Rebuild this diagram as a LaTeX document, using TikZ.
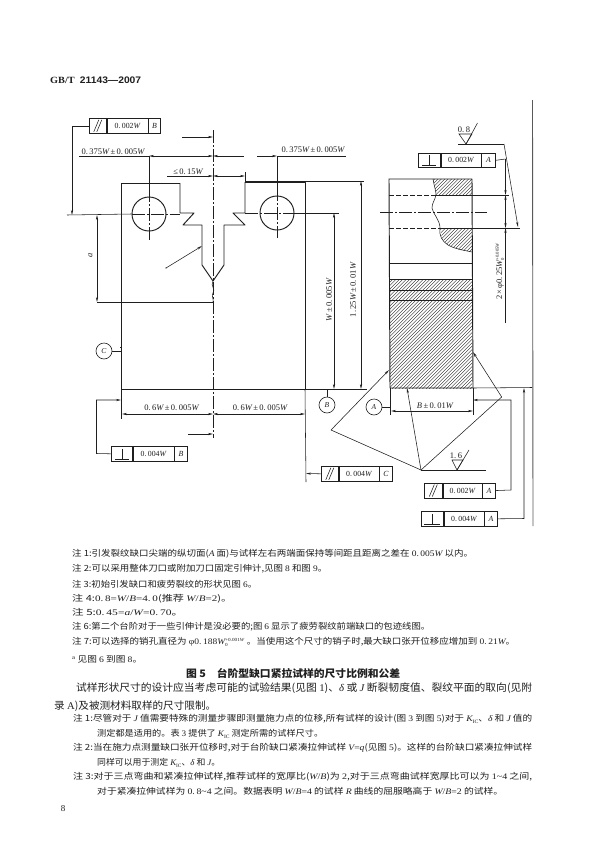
\documentclass[tikz,border=0pt]{standalone}
\usepackage{fontspec}
\usepackage{graphicx}
\setmainfont{Liberation Serif}
\newfontfamily\cjk{Noto Sans CJK SC}
\newfontfamily\hdsans{Liberation Sans}
\usetikzlibrary{arrows.meta}
\colorlet{ink}{black!88}
\newcommand{\C}[1]{{\cjk #1}}
\newcommand{\Wi}{{\itshape W}}
\newcommand{\It}[1]{{\itshape #1}}
\newcommand{\KIC}{{\itshape K}\raisebox{-1.5pt}{\scalebox{.6}{IC}}}
\newcommand{\tol}[2]{\rlap{\raisebox{3.2pt}{\scalebox{.55}{#1}}}\raisebox{-2.2pt}{\scalebox{.55}{#2}}\hspace{17pt}}
\newcommand{\txtline}[5]{\node[anchor=west,inner sep=0pt,text=ink] (#1) at (#2,#3) {\resizebox{#4pt}{\height}{\fontsize{8.5}{10}\selectfont #5}};}
\newcommand{\txtbig}[5]{\node[anchor=west,inner sep=0pt,text=ink] (#1) at (#2,#3) {\resizebox{#4pt}{\height}{\fontsize{10.3}{12}\selectfont #5}};}
% one feature control frame: name, x, y(top), widths a b c, height, text, letter
\newcommand{\fcf}[9]{%
  \node[fcell,anchor=north west,minimum width=#4pt,minimum height=#7pt] (#1a) at (#2,#3) {};
  \node[fcell,anchor=north west,minimum width=#5pt,minimum height=#7pt] (#1b) at (#1a.north east) {#8};
  \node[fcell,anchor=north west,minimum width=#6pt,minimum height=#7pt] (#1c) at (#1b.north east) {\It{#9}};
}
\tikzset{
  x=1pt,y=-1pt,
  outl/.style={draw=ink,line width=0.95pt,line join=round},
  thin line/.style={draw=ink,line width=0.55pt},
  fcell/.style={draw=ink,line width=0.6pt,inner sep=0pt,font=\fontsize{7.8}{8}\selectfont,text=ink},
  dimtext/.style={inner sep=0pt,font=\fontsize{8.5}{9}\selectfont,text=ink},
  centre line/.style={draw=ink,line width=0.6pt,dash pattern=on 13pt off 2pt on 2pt off 2pt},
  arr/.style={-{Stealth[length=5pt,width=2.2pt]}},
  arrb/.style={{Stealth[length=5pt,width=2.2pt]}-{Stealth[length=5pt,width=2.2pt]}},
  datum/.style={circle,draw=ink,line width=0.6pt,minimum size=16pt,inner sep=0pt,font=\fontsize{7.5}{8}\selectfont\itshape,text=ink},
  hole/.style={circle,draw=ink,line width=0.95pt,minimum size=34pt,inner sep=0pt},
  hatchline/.style={draw=ink,line width=0.35pt},
}
\begin{document}
\begin{tikzpicture}
\useasboundingbox (0,0) rectangle (600,857);
\fill[white] (0,0) rectangle (600,857);

% header
\node[anchor=west,inner sep=0pt,text=ink] (hdr) at (50,80) {\resizebox{91pt}{\height}{\fontsize{9.5}{11}\selectfont\bfseries GB/T\ \ {\hdsans 21143—2007}}};

% ---------- named points of the front view
\coordinate (tl) at (121,183);
\coordinate (bl) at (121,389);
\coordinate (br) at (305,389);
\coordinate (tr) at (305,182);
\coordinate (nl) at (180,183);
\coordinate (nr) at (245,182);
\coordinate (tip) at (213,281);
\coordinate (ctop) at (213,130);
\coordinate (cbot) at (213,438);
\coordinate (crack) at (213,302);

% outline
\draw[outl] (nl) -- (tl) -- (bl) -- (br) -- (tr) -- (nr);
\draw[outl] (nl) -- (180,213) -- (194,213) -- (183,225) -- (202,225) -- (202,265) -- (tip);
\draw[outl] (nr) -- (245,213) -- (233,213) -- (245,225) -- (224,225) -- (224,265) -- (tip);
\draw[thin line] (tip) .. controls (210,286) and (216,289) .. (213,293) .. controls (211,296) and (214,299) .. (crack);

% holes
\node[hole] (h1) at (149,214) {};
\node[hole] (h2) at (277,213) {};
\draw[centre line] (ctop) -- (cbot);
\draw[thin line] (149,156) -- (149,189);
\draw[centre line] (149,189) -- (149,240);
\draw[thin line] (277,156) -- (277,188);
\draw[centre line] (277,188) -- (277,238);
% horizontal hole line
\coordinate (la) at (67,215);
\draw[thin line] (la) -- (h1.west);
\draw[centre line] (h1.west) -- (180,214);
\draw[centre line] (245,213) -- (h2.east);
\draw[thin line] (h2.east) -- (339,213);

% dimension a
\coordinate (a1) at (97,215);
\coordinate (a2) at (97,302);
\draw[thin line,arrb] (a1) -- (a2);
\draw[thin line] (a2) -- (crack);
\node[dimtext,rotate=90] (atext) at (90.5,255) {\It{a}};

% top dims
\coordinate (d1a) at (79,156);
\coordinate (d1b) at (149,156);
\coordinate (d1c) at (213,156);
\coordinate (d1d) at (244,156);
\draw[thin line] (d1a) -- (d1b);
\draw[thin line,arrb] (d1b) -- (d1c);
\draw[thin line,{Stealth[length=5pt,width=2.2pt]}-] (d1c) -- (d1d);
\node[dimtext] (t1) at (113,152) {0.\,375\Wi$\,$±$\,$0.\,005\Wi};
\coordinate (d2a) at (257,156);
\coordinate (d2b) at (277,156);
\coordinate (d2c) at (346,156);
\draw[thin line,arr] (d2a) -- (d2b);
\draw[thin line] (d2b) -- (d2c);
\node[dimtext] (t2) at (313,150) {0.\,375\Wi$\,$±$\,$0.\,005\Wi};
\coordinate (d3a) at (167,176);
\coordinate (d3b) at (213,176);
\coordinate (d3c) at (245,176);
\draw[thin line,arr] (d3a) -- (d3b);
\draw[thin line,arrb] (d3b) -- (d3c);
\node[dimtext] (t3) at (188,172) {≤\,0.\,15\Wi};
\coordinate (d4a) at (182,137);
\coordinate (d4b) at (213,137);
\draw[thin line,arr] (d4a) -- (d4b);

% leader note arrow
\coordinate (n1a) at (166,268);
\coordinate (n1b) at (202,246);
\draw[thin line,arr] (n1a) -- (n1b);
\fill[ink] (n1a) circle (0.7pt);

% top-left frame
\fcf{fa}{89}{118}{17}{41}{12}{15}{0.\,002\Wi}{B}
\draw[thin line] ([shift={(-4,6)}]faa.center) -- ([shift={(1,-6)}]faa.center);
\draw[thin line] ([shift={(-1,6)}]faa.center) -- ([shift={(4,-6)}]faa.center);
\coordinate (ld) at (72,215);
\draw[thin line,arr] (faa.west) -| (ld);

% W and 1.25W dims
\coordinate (w1) at (334,213);
\coordinate (w2) at (334,389);
\coordinate (u1) at (361,181);
\coordinate (u2) at (361,389);
\draw[thin line,arrb] (w1) -- (w2);
\draw[thin line,arrb] (u1) -- (u2);
\draw[thin line] (nr) -- (245,172);
\draw[thin line] (245,181) -- (364,181);
\draw[thin line] (br) -- (367,389);
\node[dimtext,rotate=90] (wt) at (329,300) {\Wi$\,$±$\,$0.\,005\Wi};
\node[dimtext,rotate=90] (ut) at (353,290) {1.\,25\Wi$\,$±$\,$0.\,01\Wi};

% datums
\node[datum] (dc) at (104,351) {C};
\draw[thin line] (dc.east) -- (121,351);
\draw[outl] (120,347) -- (122,347);
\node[datum] (db) at (327,405) {B};
\draw[thin line] (db.north) -- (327,389);
\draw[outl] (323,389) -- (331,389);
\node[datum] (da) at (374,407) {A};
\draw[thin line] (da.east) -- (390,407);
\draw[thin line] (390,403) -- (390,411);

% bottom dims
\coordinate (b0) at (122,414);
\coordinate (b1) at (213,414);
\coordinate (b2) at (305,414);
\draw[thin line] (bl) -- (121,419);
\draw[thin line,arrb] (b0) -- (b1);
\draw[thin line,arrb] (b1) -- (b2);
\node[dimtext] (t4) at (171.5,408) {0.\,6\Wi$\,$±$\,$0.\,005\Wi};
\node[dimtext] (t5) at (260,408) {0.\,6\Wi$\,$±$\,$0.\,005\Wi};
\coordinate (b3) at (188,434);
\draw[thin line,arr] (b3) -- (213,434);
\coordinate (rb) at (306,482);
\draw[thin line] (br) -- (rb);

% lower-left frame
\fcf{fb}{111}{446}{21}{41}{13}{15}{0.\,004\Wi}{B}
\draw[thin line] ([shift={(0,-5)}]fba.center) -- ([shift={(0,5)}]fba.center);
\draw[outl] ([shift={(-7,5.5)}]fba.center) -- ([shift={(7,5.5)}]fba.center);
\coordinate (ll) at (121,400);
\draw[thin line,arr] (fba.west) -- (96.5,453.5) -- (96.5,400) -- (ll);

% mid frame C
\fcf{fc}{321}{466}{17}{40}{13}{15}{0.\,004\Wi}{C}
\draw[thin line] ([shift={(-4,6)}]fca.center) -- ([shift={(1,-6)}]fca.center);
\draw[thin line] ([shift={(-1,6)}]fca.center) -- ([shift={(4,-6)}]fca.center);
\draw[thin line,arr] (fca.west) -- (306,473.5);

% ---------- side view
\begin{scope}
\clip (433,179) -- (472,179) -- (472,195) -- (436,195) -- (435,187) -- cycle;
\foreach \d in {400,403.4,...,560} \draw[hatchline] (\d,200) -- (\d+30,170);
\end{scope}
\begin{scope}
\clip (440,228) -- (472,228) -- (472,252) -- (460,250) -- (448,245) -- (442,238) -- cycle;
\foreach \d in {400,403.4,...,540} \draw[hatchline] (\d,260) -- (\d+40,220);
\end{scope}
\begin{scope}
\clip (390,279) rectangle (472,388);
\foreach \d in {260,263.4,...,480} \draw[hatchline] (\d,395) -- (\d+125,270);
\end{scope}
\coordinate (stl) at (389,179);
\coordinate (str) at (472,179);
\coordinate (sbl) at (390,388);
\coordinate (sbr) at (473,388);
\draw[outl] (sbl) -- (stl) -- (str) -- (sbr) -- cycle;
\draw[outl] (390,263) -- (472,263);
\draw[outl] (390,279) -- (472,279);
\draw[thin line,line width=0.8pt] (390,290) -- (472,290);
\draw[thin line,line width=0.8pt] (390,300) -- (472,300);
\draw[thin line] (433,179) .. controls (434,186) and (436,190) .. (436,195) .. controls (435,200) and (432,203) .. (432,208) .. controls (433,214) and (440,220) .. (440,228) .. controls (439,236) and (442,241) .. (448,245) .. controls (455,249) and (463,250) .. (472,252);
\draw[draw=ink,line width=0.7pt,dash pattern=on 5pt off 2pt] (389,195) -- (436,195);
\draw[draw=ink,line width=0.7pt,dash pattern=on 5pt off 2pt] (389,228) -- (440,228);
\coordinate (e1) at (509,195);
\coordinate (e2) at (520,228);
\draw[thin line] (436,195) -- (e1);
\draw[thin line] (440,228) -- (e2);
\draw[centre line] (380,212) -- (487,212);

% right dims
\coordinate (v0) at (505.5,159);
\coordinate (v1) at (505.5,195);
\coordinate (v2) at (505.5,228);
\coordinate (v3) at (505.5,323);
\draw[thin line,arr] (v0) -- (v1);
\draw[thin line,arr] (505.5,208) -- (v1);
\draw[thin line,arr] (505.5,208) -- (v2);
\draw[thin line,arr] (v3) -- (v2);
\node[dimtext,rotate=90] (dt) at (500,270) {2×\,φ0.\,25\Wi\raisebox{0pt}{\tol{+0.005\Wi}{0}}};

% top-right frame
\fcf{fd}{418}{153}{22}{40}{14}{14}{0.\,002\Wi}{A}
\draw[thin line] ([shift={(0,-5)}]fda.center) -- ([shift={(0,5)}]fda.center);
\draw[thin line] ([shift={(-7,5)}]fda.center) -- ([shift={(7,5)}]fda.center);
\draw[thin line] (fdc.east) -- (v0);

% roughness 0.8
\coordinate (r1) at (459,134);
\coordinate (r2) at (472,134);
\coordinate (r3) at (466,144);
\coordinate (r4) at (477.5,123);
\coordinate (r5) at (504,144);
\coordinate (r6) at (518,227);
\draw[thin line] (r1) -- (r2) -- (r3) -- cycle;
\draw[thin line] (r3) -- (r4);
\draw[thin line] (458,144) -- (r5);
\draw[thin line,arr] (r5) -- (r6);
\node[dimtext] (r08) at (464,129.5) {0.\,8};

% side bottom dim
\draw[thin line] (sbl) -- (390,415);
\draw[thin line] (sbr) -- (473,415);
\coordinate (s1) at (391,411);
\coordinate (s2) at (473,411);
\draw[thin line,arrb] (s1) -- (s2);
\node[dimtext] (t6) at (435,406) {\It{B}$\,$±$\,$0.\,01\Wi};

% roughness 1.6
\coordinate (q0) at (421,470);
\coordinate (q1) at (407,388);
\coordinate (q2) at (501.7,397);
\coordinate (q3) at (473,352);
\coordinate (q4) at (331,430);
\coordinate (q5) at (389,370);
\coordinate (q6) at (486,470);
\draw[thin line] (q0) -- (q6);
\draw[thin line,arr] (q0) -- (q1);
\draw[thin line,arr] (q2) -- (q3);
\draw[thin line] (q0) -- (q2);
\draw[thin line] (q0) -- (q4);
\draw[thin line,arr] (q4) -- (q5);
\coordinate (p1) at (452,460);
\coordinate (p2) at (463,460);
\coordinate (p3) at (457,470);
\coordinate (p4) at (469,450);
\draw[thin line] (p1) -- (p2) -- (p3) -- cycle;
\draw[thin line] (p3) -- (p4);
\node[dimtext] (r16) at (456,455.5) {1.\,6};

% lower-right frames
\fcf{fe}{424}{483}{18}{39}{13}{14.5}{0.\,002\Wi}{A}
\draw[thin line] ([shift={(-4,6)}]fea.center) -- ([shift={(1,-6)}]fea.center);
\draw[thin line] ([shift={(-1,6)}]fea.center) -- ([shift={(4,-6)}]fea.center);
\coordinate (g1) at (511,490);
\coordinate (g2) at (511,400);
\coordinate (g3) at (473,400);
\draw[thin line,arr] (fec.east) -- (g1) -- (g2) -- (g3);

\fcf{ff}{421}{511}{22}{40}{13}{15}{0.\,004\Wi}{A}
\draw[thin line] ([shift={(0,-5)}]ffa.center) -- ([shift={(0,5)}]ffa.center);
\draw[thin line] ([shift={(-8,5)}]ffa.center) -- ([shift={(8,5)}]ffa.center);
\coordinate (g4) at (524,518.5);
\coordinate (g5) at (524,388);
\draw[thin line,arr] (ffc.east) -- (g4) -- (g5);
\coordinate (g6) at (532,387.5);
\draw[thin line] (sbr) -- (g6);

% long vertical line
\coordinate (z1) at (532.5,100);
\coordinate (z2) at (533,526);
\draw[draw=black!65,line width=0.9pt] (z1) -- (z2);

% ---------- notes
\txtline{n1}{72}{554}{401}{\C{注 1:引发裂纹缺口尖端的纵切面(}\It{A}\C{ 面)与试样左右两端面保持等间距且距离之差在 }0.\,005\Wi\C{ 以内。}}
\txtline{n2}{72}{569}{255}{\C{注 2:可以采用整体刀口或附加刀口固定引伸计,见图 }8\C{ 和图 }9\C{。}}
\txtline{n3}{72}{584}{185}{\C{注 3:初始引发缺口和疲劳裂纹的形状见图 }6\C{。}}
\txtline{n4}{72}{599}{160}{\C{注 4:}0.\,8=\Wi/\It{B}=4.\,0\C{(推荐 }\Wi/\It{B}=2\C{)。}}
\txtline{n5}{72}{612.5}{111}{\C{注 5:}0.\,45=\It{a}/\Wi=0.\,70\C{。}}
\txtline{n6}{72}{627}{358}{\C{注 6:第二个台阶对于一些引伸计是没必要的;图 }6\C{ 显示了疲劳裂纹前端缺口的包迹线图。}}
\txtline{n7}{72}{642}{443}{\C{注 7:可以选择的销孔直径为 }φ0.\,188\Wi\tol{+0.001\Wi}{0}\C{。当使用这个尺寸的销子时,最大缺口张开位移应增加到 }0.\,21\Wi\C{。}}
\txtline{n8}{72}{659}{70}{\raisebox{3pt}{\scalebox{.7}{a}}\ \C{见图 }6\C{ 到图 }8\C{。}}

\txtbig{cap}{186}{673}{214}{{\cjk\bfseries 图 5\quad 台阶型缺口紧拉试样的尺寸比例和公差}}

\txtbig{p1}{76}{688}{456}{\C{试样形状尺寸的设计应当考虑可能的试验结果(见图 }1\C{)、}\It{δ}\C{ 或 }\It{J}\C{ 断裂韧度值、裂纹平面的取向(见附}}
\txtbig{p2}{54}{706}{162}{\C{录 }A\C{)及被测材料取样的尺寸限制。}}

\txtline{m1}{73}{719}{459}{\C{注 1:尽管对于 }\It{J}\C{ 值需要特殊的测量步骤即测量施力点的位移,所有试样的设计(图 }3\C{ 到图 }5\C{)对于 }\KIC\C{、}\It{δ}\C{ 和 }\It{J}\C{ 值的}}
\txtline{m1b}{97}{734}{226}{\C{测定都是适用的。表 }3\C{ 提供了 }\KIC\C{ 测定所需的试样尺寸。}}
\txtline{m2}{73}{748}{459}{\C{注 2:当在施力点测量缺口张开位移时,对于台阶缺口紧凑拉伸试样 }\It{V}=\It{q}\C{(见图 }5\C{)。这样的台阶缺口紧凑拉伸试样}}
\txtline{m2b}{97}{763}{123}{\C{同样可以用于测定 }\KIC\C{、}\It{δ}\C{ 和 }\It{J}\C{。}}
\txtline{m3}{73}{777}{459}{\C{注 3:对于三点弯曲和紧凑拉伸试样,推荐试样的宽厚比(}\Wi/\It{B}\C{)为 }2\C{,对于三点弯曲试样宽厚比可以为 }1\textasciitilde4\C{ 之间,}}
\txtline{m3b}{97}{791}{406}{\C{对于紧凑拉伸试样为 }0.\,8\textasciitilde4\C{ 之间。数据表明 }\Wi/\It{B}=4\C{ 的试样 }\It{R}\C{ 曲线的屈服略高于 }\Wi/\It{B}=2\C{ 的试样。}}

\node[inner sep=0pt,font=\fontsize{9}{10}\selectfont,text=ink] (pg) at (63,809) {8};
\end{tikzpicture}
\end{document}
